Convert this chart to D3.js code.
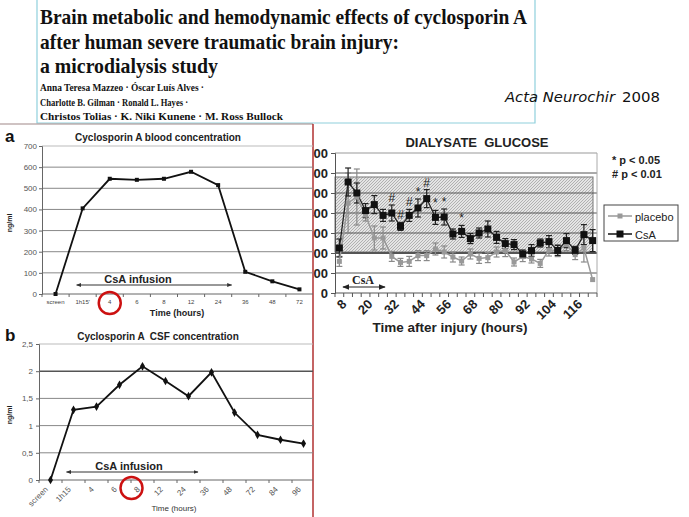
<!DOCTYPE html>
<html><head><meta charset="utf-8">
<script src="https://cdn.jsdelivr.net/npm/d3@7"></script>
<style>body{margin:0;background:#fff}svg{display:block}text{font-family:Arial,"Liberation Sans",sans-serif}</style>
</head><body><svg id="c" width="689" height="517"></svg>
<script>
// ---------- DATA ----------
const titleLines = ["Brain metabolic and hemodynamic effects of cyclosporin A","after human severe traumatic brain injury:","a microdialysis study"];
const authorLines = ["Anna Teresa Mazzeo · Óscar Luís Alves ·","Charlotte B. Gilman · Ronald L. Hayes ·","Christos Tolias · K. Niki Kunene · M. Ross Bullock"];
const journal = "Acta Neurochir";
const journalYear = "2008";

const bloodCats = ["screen","1h15'","4","6","8","12","24","36","48","72"];
const bloodVals = [0,405,545,540,545,578,515,105,60,22];
const bloodYTicks = [0,100,200,300,400,500,600,700];

const csfCats = ["screen","1h15","4","6","8","12","24","36","48","72","84","96"];
const csfVals = [0,1.29,1.35,1.75,2.09,1.82,1.54,1.98,1.24,0.83,0.74,0.67];
const csfYTicks = [0,0.5,1,1.5,2,2.5];
const csfYLabels = ["0","0,5","1","1,5","2","2,5"];

const glucoseHours = [8,12,16,20,24,28,32,36,40,44,48,52,56,60,64,68,72,76,80,84,88,92,96,100,104,108,112,116,120,124];
const glucoseTickLabels = [8,20,32,44,56,68,80,92,104,116];
const glucoseYTicks = [0,100,200,300,400,500,600,700];
const placeboVals = [158,450,480,390,275,275,183,153,158,187,187,220,205,180,160,195,173,177,205,212,155,182,170,148,215,212,242,192,225,67];
const placeboErr  = [25,150,140,30,60,55,25,20,25,25,25,30,30,25,20,25,25,25,25,30,20,25,20,20,30,30,30,25,70,0];
const csaVals = [225,555,500,412,442,388,400,333,388,425,472,378,380,295,308,272,300,320,278,247,242,195,212,250,257,213,262,213,292,262];
const csaErr  = [45,70,50,35,45,30,40,20,30,45,45,35,40,25,30,25,25,40,30,25,25,20,30,20,30,25,35,20,50,55];
const csaSig  = ["","","","","","","#","#","#","*","#","*","*","","*","","","","","","","","","","","","","","",""];
const normalRange = [205,580];
const legendItems = ["placebo","CsA"];
const pNotes = ["* p < 0.05","# p < 0.01"];

// ---------- DRAW ----------
const svg = d3.select("#c");
const defs = svg.append("defs");
const pat = defs.append("pattern").attr("id","hatch").attr("patternUnits","userSpaceOnUse")
  .attr("width",3).attr("height",3);
pat.append("rect").attr("width",3).attr("height",3).attr("fill","#e4e4e4");
pat.append("path").attr("d","M-1,1 l2,-2 M0,3 l3,-3 M2,4 l2,-2").attr("stroke","#9a9a9a").attr("stroke-width",0.7);
function arrowMarker(id,color,size){
  const m = defs.append("marker").attr("id",id).attr("viewBox","0 0 10 10").attr("refX",9).attr("refY",5)
    .attr("markerWidth",size).attr("markerHeight",size).attr("orient","auto-start-reverse");
  m.append("path").attr("d","M0,1 L10,5 L0,9 z").attr("fill",color);
}
arrowMarker("arrA","#333",5);
arrowMarker("arrG","#222",6);

// ---- Title block ----
const tb = svg.append("g");
tb.append("path").attr("d","M37,0 V123 H535 V0").attr("fill","none").attr("stroke","#8fd0dc").attr("stroke-width",1.2);
const titleY=[24,49,73], titleW=[487,359,178];
titleLines.forEach((t,i)=>tb.append("text").attr("x",40).attr("y",titleY[i]).text(t)
  .style("font-family","'Liberation Serif','Times New Roman',serif").style("font-weight","bold").style("font-size","22px")
  .attr("textLength",titleW[i]).attr("lengthAdjust","spacingAndGlyphs").attr("fill","#111"));
const authY=[91,106,120], authW=[164,148,243];
authorLines.forEach((t,i)=>tb.append("text").attr("x",40).attr("y",authY[i]).text(t)
  .style("font-family","'Liberation Serif','Times New Roman',serif").style("font-weight","bold").style("font-size","11px")
  .attr("textLength",authW[i]).attr("lengthAdjust","spacingAndGlyphs").attr("fill","#111"));
const jt = svg.append("text").attr("x",505).attr("y",102).style("font-size","14px").style("font-family","'DejaVu Sans',sans-serif").attr("fill","#111");
jt.append("tspan").text(journal).style("font-style","italic").attr("textLength",110).attr("lengthAdjust","spacingAndGlyphs");
jt.append("tspan").attr("x",622).text(journalYear).attr("textLength",38).attr("lengthAdjust","spacingAndGlyphs");

// ---- Glucose chart ----
const gx = d3.scaleBand().domain(glucoseHours).range([335,597]);
const gy = d3.scaleLinear().domain([0,700]).range([293,153]);
const gbw = gx.bandwidth();
const gc = h => gx(h)+gbw/2;
const G = svg.append("g");
G.append("text").attr("x",477).attr("y",147).attr("text-anchor","middle").style("font-size","13px").style("font-weight","bold")
  .style("white-space","pre").attr("fill","#222").text("DIALYSATE  GLUCOSE");
G.append("rect").attr("x",335).attr("y",gy(normalRange[1])).attr("width",593-335)
  .attr("height",gy(normalRange[0])-gy(normalRange[1])).attr("fill","url(#hatch)").attr("stroke","#777").attr("stroke-width",1);
G.selectAll(".gg").data(glucoseYTicks.filter(t=>t>0)).join("line")
  .attr("x1",335).attr("x2",597).attr("y1",d=>gy(d)).attr("y2",d=>gy(d))
  .attr("stroke",d=>d===700?"#999":"#555").attr("stroke-width",d=>d===200?1.8:1);
G.append("line").attr("x1",597).attr("x2",597).attr("y1",gy(700)).attr("y2",gy(0)).attr("stroke","#aaa");
const gyAxis = G.append("g").attr("transform","translate(335,0)")
  .call(d3.axisLeft(gy).tickValues(glucoseYTicks).tickSize(4).tickPadding(3));
gyAxis.selectAll("text").style("font-size","13px").style("font-weight","bold").attr("fill","#222");
gyAxis.selectAll("line,path").attr("stroke","#555");
G.append("line").attr("x1",335).attr("x2",597).attr("y1",gy(0)).attr("y2",gy(0)).attr("stroke","#555");
G.selectAll(".gxt").data(glucoseHours.concat(["end"])).join("line")
  .attr("x1",d=>d==="end"?597:gx(d)).attr("x2",d=>d==="end"?597:gx(d)).attr("y1",gy(0)).attr("y2",gy(0)+4).attr("stroke","#555");
G.selectAll(".gxl").data(glucoseTickLabels).join("text")
  .attr("transform",d=>`translate(${gc(d)+1},${gy(0)+5}) rotate(-45)`).attr("text-anchor","end").attr("dy","0.75em")
  .style("font-size","13px").style("font-weight","bold").attr("fill","#222").text(d=>d);
G.append("text").attr("x",450).attr("y",332).attr("text-anchor","middle").style("font-size","13.5px").style("font-weight","bold")
  .attr("fill","#222").text("Time after injury (hours)");
function errBars(vals,errs,color){
  const g = G.append("g").attr("stroke",color).attr("stroke-width",1.2);
  vals.forEach((v,i)=>{ const e=errs[i]; if(!e) return; const x=gc(glucoseHours[i]);
    g.append("line").attr("x1",x).attr("x2",x).attr("y1",gy(v-e)).attr("y2",gy(v+e));
    g.append("line").attr("x1",x-3).attr("x2",x+3).attr("y1",gy(v-e)).attr("y2",gy(v-e));
    g.append("line").attr("x1",x-3).attr("x2",x+3).attr("y1",gy(v+e)).attr("y2",gy(v+e)); });
}
errBars(placeboVals,placeboErr,"#8a8a8a");
errBars(csaVals,csaErr,"#222");
const gline = d3.line().x((d,i)=>gc(glucoseHours[i])).y(d=>gy(d));
G.append("path").attr("d",gline(placeboVals)).attr("fill","none").attr("stroke","#999").attr("stroke-width",1.5);
G.append("path").attr("d",gline(csaVals)).attr("fill","none").attr("stroke","#222").attr("stroke-width",1.3);
G.selectAll(".pm").data(placeboVals).join("rect").attr("x",(d,i)=>gc(glucoseHours[i])-2.5).attr("y",d=>gy(d)-2.5)
  .attr("width",5).attr("height",5).attr("fill","#999");
G.selectAll(".cm").data(csaVals).join("rect").attr("x",(d,i)=>gc(glucoseHours[i])-3.5).attr("y",d=>gy(d)-3.5)
  .attr("width",7).attr("height",7).attr("fill","#111");
G.selectAll(".sig").data(csaSig).join("text").attr("x",(d,i)=>gc(glucoseHours[i])).attr("y",(d,i)=>gy(csaVals[i]+csaErr[i])-3)
  .attr("text-anchor","middle").style("font-size","12px").attr("fill","#222").text(d=>d);
// CsA arrow
G.append("line").attr("x1",343).attr("x2",385).attr("y1",287).attr("y2",287).attr("stroke","#222").attr("stroke-width",1.2)
  .attr("marker-start","url(#arrG)").attr("marker-end","url(#arrG)");
G.append("text").attr("x",363).attr("y",284).attr("text-anchor","middle").style("font-family","'Liberation Serif',serif")
  .style("font-size","12px").style("font-weight","bold").attr("fill","#222").text("CsA");
// legend
const L = G.append("g");
L.append("rect").attr("x",604).attr("y",205).attr("width",74).attr("height",36).attr("fill","#fff").attr("stroke","#444");
legendItems.forEach((t,i)=>{ const y=216+i*18, c=i?"#111":"#999";
  L.append("line").attr("x1",608).attr("x2",632).attr("y1",y).attr("y2",y).attr("stroke",c).attr("stroke-width",1.5);
  L.append("rect").attr("x",620-(i?3.5:2.5)).attr("y",y-(i?3.5:2.5)).attr("width",i?7:5).attr("height",i?7:5).attr("fill",c);
  L.append("text").attr("x",635).attr("y",y+4.5).style("font-size","11px").attr("fill","#222").text(t); });
pNotes.forEach((t,i)=>G.append("text").attr("x",612).attr("y",164+i*14).style("font-size","11px").style("font-weight","bold")
  .attr("fill","#222").text(t));

// ---- Left panel ----
const P = svg.append("g");
P.append("rect").attr("x",0).attr("y",124).attr("width",313).attr("height",393).attr("fill","#fff");
P.append("line").attr("x1",0).attr("x2",313).attr("y1",124).attr("y2",124).attr("stroke","#a08888").attr("stroke-width",1.2);
P.append("line").attr("x1",313).attr("x2",313).attr("y1",124).attr("y2",517).attr("stroke","#b03030").attr("stroke-width",1.5);

// chart a
const ax = d3.scaleBand().domain(bloodCats).range([42,313]);
const ay = d3.scaleLinear().domain([0,700]).range([294,146]);
const ac = c => ax(c)+ax.bandwidth()/2;
P.append("text").attr("x",5).attr("y",142).style("font-size","17px").style("font-weight","bold").attr("fill","#111").text("a");
P.append("text").attr("x",158).attr("y",141).attr("text-anchor","middle").style("font-size","10px").style("font-weight","bold")
  .attr("fill","#222").text("Cyclosporin A blood concentration");
P.selectAll(".ag").data(bloodYTicks.filter(t=>t>0)).join("line").attr("x1",42).attr("x2",313)
  .attr("y1",d=>ay(d)).attr("y2",d=>ay(d)).attr("stroke",d=>d===700?"#bbb":"#888").attr("stroke-width",1);
const aya = P.append("g").attr("transform","translate(42,0)").call(d3.axisLeft(ay).tickValues(bloodYTicks).tickSize(3).tickPadding(2));
aya.selectAll("text").style("font-size","8px").attr("fill","#555");
aya.selectAll("line,path").attr("stroke","#666");
P.append("line").attr("x1",42).attr("x2",313).attr("y1",ay(0)).attr("y2",ay(0)).attr("stroke","#666");
P.selectAll(".axt").data(bloodCats).join("line").attr("x1",d=>ax(d)).attr("x2",d=>ax(d)).attr("y1",ay(0)).attr("y2",ay(0)+3).attr("stroke","#666");
P.selectAll(".axl").data(bloodCats).join("text").attr("x",d=>ac(d)).attr("y",ay(0)+10).attr("text-anchor","middle")
  .style("font-size","6px").attr("fill","#444").text(d=>d);
P.append("text").attr("x",177).attr("y",316).attr("text-anchor","middle").style("font-size","9px").style("font-weight","bold")
  .attr("fill","#222").text("Time (hours)");
P.append("text").attr("transform","translate(12,223) rotate(-90)").attr("text-anchor","middle").style("font-size","7px")
  .style("font-weight","bold").attr("fill","#222").text("ng/ml");
const aline = d3.line().x((d,i)=>ac(bloodCats[i])).y(d=>ay(d));
P.append("path").attr("d",aline(bloodVals)).attr("fill","none").attr("stroke","#111").attr("stroke-width",1.8);
P.selectAll(".am").data(bloodVals).join("rect").attr("x",(d,i)=>ac(bloodCats[i])-2).attr("y",d=>ay(d)-2)
  .attr("width",4).attr("height",4).attr("fill","#111");
P.append("line").attr("x1",ac(bloodCats[1])-6).attr("x2",ax(bloodCats[7])).attr("y1",285).attr("y2",285)
  .attr("stroke","#333").attr("stroke-width",1).attr("marker-start","url(#arrA)").attr("marker-end","url(#arrA)");
P.append("text").attr("x",138).attr("y",283).attr("text-anchor","middle").style("font-size","11px").style("font-weight","bold")
  .attr("fill","#222").text("CsA infusion");
P.append("circle").attr("cx",ac(bloodCats[2])).attr("cy",303).attr("r",11).attr("fill","none").attr("stroke","#cc1111").attr("stroke-width",2.5);

// chart b
const bx = d3.scaleBand().domain(csfCats).range([39,315]);
const by = d3.scaleLinear().domain([0,2.5]).range([480,344]);
const bc = c => bx(c)+bx.bandwidth()/2;
P.append("text").attr("x",5).attr("y",341).style("font-size","17px").style("font-weight","bold").attr("fill","#111").text("b");
P.append("text").attr("x",158).attr("y",340).attr("text-anchor","middle").style("font-size","10px").style("font-weight","bold")
  .style("white-space","pre").attr("fill","#222").text("Cyclosporin A  CSF concentration");
P.selectAll(".bg").data(csfYTicks.filter(t=>t>0)).join("line").attr("x1",39).attr("x2",313)
  .attr("y1",d=>by(d)).attr("y2",d=>by(d)).attr("stroke",d=>d===2?"#555":(d===2.5?"#bbb":"#888")).attr("stroke-width",d=>d===2?1.5:1);
const bya = P.append("g").attr("transform","translate(39,0)").call(d3.axisLeft(by).tickValues(csfYTicks).tickSize(3).tickPadding(3)
  .tickFormat((d,i)=>csfYLabels[i]));
bya.selectAll("text").style("font-size","8px").attr("fill","#555");
bya.selectAll("line,path").attr("stroke","#666");
P.append("line").attr("x1",39).attr("x2",313).attr("y1",by(0)).attr("y2",by(0)).attr("stroke","#666");
P.selectAll(".bxt").data(csfCats).join("line").attr("x1",d=>bx(d)).attr("x2",d=>bx(d)).attr("y1",by(0)).attr("y2",by(0)+3).attr("stroke","#666");
P.selectAll(".bxl").data(csfCats).join("text").attr("transform",d=>`translate(${bc(d)-6},${by(0)+6}) rotate(-45)`)
  .attr("text-anchor","end").attr("dy","0.7em").style("font-size","8px").attr("fill","#555").text(d=>d);
P.append("text").attr("x",174).attr("y",511).attr("text-anchor","middle").style("font-size","8px")
  .attr("fill","#333").text("Time (hours)");
P.append("text").attr("transform","translate(12,415) rotate(-90)").attr("text-anchor","middle").style("font-size","7px")
  .style("font-weight","bold").attr("fill","#222").text("ng/ml");
const bline = d3.line().x((d,i)=>bc(csfCats[i])).y(d=>by(d));
P.append("path").attr("d",bline(csfVals)).attr("fill","none").attr("stroke","#111").attr("stroke-width",1.8);
P.selectAll(".bm").data(csfVals).join("path").attr("transform",(d,i)=>`translate(${bc(csfCats[i])},${by(d)})`)
  .attr("d",d3.symbol(d3.symbolDiamond,22)()).attr("fill","#111");
P.append("line").attr("x1",bc(csfCats[1])-7).attr("x2",bx(csfCats[7])-2).attr("y1",472).attr("y2",472)
  .attr("stroke","#333").attr("stroke-width",1).attr("marker-start","url(#arrA)").attr("marker-end","url(#arrA)");
P.append("text").attr("x",129).attr("y",470).attr("text-anchor","middle").style("font-size","11px").style("font-weight","bold")
  .attr("fill","#222").text("CsA infusion");
P.append("circle").attr("cx",bc(csfCats[4])-11).attr("cy",488).attr("r",11).attr("fill","none").attr("stroke","#cc1111").attr("stroke-width",2.5);
</script></body></html>
